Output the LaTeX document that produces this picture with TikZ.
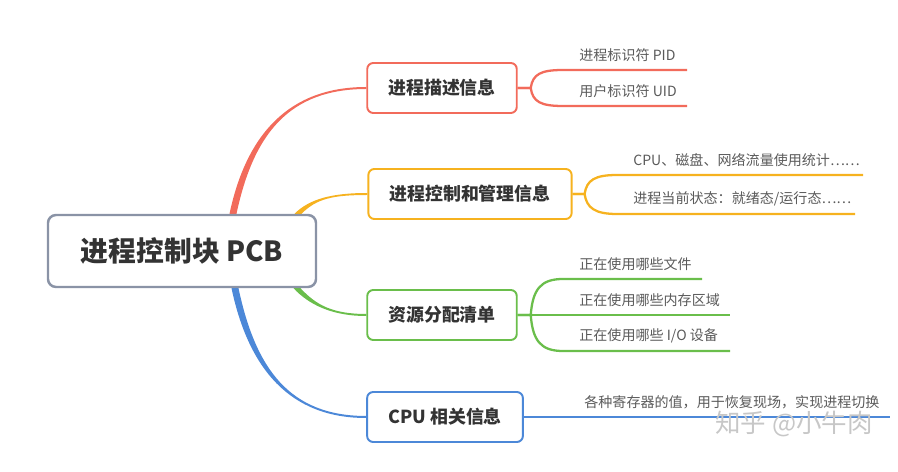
\documentclass[tikz,border=0pt]{standalone}
\usepackage{fontspec}
\setmainfont{Noto Sans CJK SC}
\usetikzlibrary{calc,backgrounds}

% 颜色
\definecolor{cred}{HTML}{F26B5B}
\definecolor{corange}{HTML}{F6B21F}
\definecolor{cgreen}{HTML}{6ABE4B}
\definecolor{cblue}{HTML}{4C88D8}
\definecolor{cgray}{HTML}{8A93A6}
\definecolor{ctext}{HTML}{333333}
\definecolor{cleaf}{HTML}{5A5A5A}

\begin{document}
\begin{tikzpicture}[x=0.02cm,y=-0.02cm,
        % 结点样式
        RootNode/.style={draw=cgray, line width=1.4pt, rounded corners=0.16cm, fill=white, inner xsep=0.66cm, minimum height=1.44cm, text=ctext, font=\fontsize{15.8pt}{19pt}\selectfont\bfseries},
        SubNode/.style={line width=1.1pt, rounded corners=0.12cm, fill=white, inner xsep=0.42cm, minimum height=1cm, text=ctext, font=\fontsize{10.2pt}{12pt}\selectfont\bfseries},
        LeafNode/.style={anchor=south west, inner xsep=0.32cm, inner ysep=0.16cm, text=cleaf, font=\fontsize{8pt}{10pt}\selectfont},
        LeafLine/.style={line width=1.3pt}]

        \useasboundingbox (0,0) rectangle (898,472);

        % 中心结点
        \node[RootNode] (root) at (182,251) {进程控制块 PCB};

        % 四个分支结点
        \node[SubNode, draw=cred] (b1) at (442,88) {进程描述信息};
        \node[SubNode, draw=corange] (b2) at (470,194) {进程控制和管理信息};
        \node[SubNode, draw=cgreen] (b3) at (442,315) {资源分配清单};
        \node[SubNode, draw=cblue] (b4) at (445,417) {CPU 相关信息};

        % 中心到分支的粗细渐变曲线
        \begin{pgfonlayer}{background}
        \foreach \col/\bx/\an/\sx/\cx/\cy/\ex/\dy in {cred/b1/north/51/17/-80/77/-1,
                corange/b2/north/116/15/-15/35/-1,
                cgreen/b3/south/115/15/16/35/1,
                cblue/b4/south/53/17/80/77/1}
            \fill[\col] ($(root.\an)+(\sx-3.5,0)$) .. controls +(\cx,\cy) and +(-\ex,0) .. ($(\bx.west)+(0,\dy)$)
                -- ($(\bx.west)-(0,\dy)$) .. controls +(-\ex,0) and +(\cx,\cy) .. ($(root.\an)+(\sx+3.5,0)$) -- cycle;
        \end{pgfonlayer}

        % 进程描述信息
        \node[LeafNode] (l11) at (563,70) {进程标识符 PID};
        \node[LeafNode] (l12) at (563,106) {用户标识符 UID};
        \draw[LeafLine, cred] (b1.east) -- ++(13,0) .. controls +(2,-14) and +(-22,0) .. (l11.south west) -- ++(124,0);
        \draw[LeafLine, cred] (b1.east) -- ++(13,0) .. controls +(2,14) and +(-22,0) .. (l12.south west) -- ++(124,0);

        % 进程控制和管理信息
        \node[LeafNode] (l21) at (617,175) {CPU、磁盘、网络流量使用统计……};
        \node[LeafNode] (l22) at (617,214) {进程当前状态：就绪态/运行态……};
        \draw[LeafLine, corange] (b2.east) -- ++(12,0) .. controls +(2,-14) and +(-22,0) .. (l21.south west) -- ++(246,0);
        \draw[LeafLine, corange] (b2.east) -- ++(12,0) .. controls +(2,14) and +(-22,0) .. (l22.south west) -- ++(238,0);

        % 资源分配清单
        \node[LeafNode] (l31) at (563,279) {正在使用哪些文件};
        \node[LeafNode] (l32) at (563,315) {正在使用哪些内存区域};
        \node[LeafNode] (l33) at (563,351) {正在使用哪些 I/O 设备};
        \draw[LeafLine, cgreen] (b3.east) -- ++(13,0) .. controls +(2,-26) and +(-22,0) .. (l31.south west) -- ++(139,0);
        \draw[LeafLine, cgreen] (b3.east) -- (l32.south west) -- ++(167,0);
        \draw[LeafLine, cgreen] (b3.east) -- ++(13,0) .. controls +(2,26) and +(-22,0) .. (l33.south west) -- ++(167,0);

        % CPU 相关信息
        \node[LeafNode] (l41) at (568,417) {各种寄存器的值，用于恢复现场，实现进程切换};
        \draw[LeafLine, cblue] (b4.east) -- (l41.south west) -- ++(322,0);

        % 水印
        \node[text=black!22, font=\fontsize{14.5pt}{16pt}\selectfont] (wm) at (794,424) {知乎 @小牛肉};
\end{tikzpicture}
\end{document}
